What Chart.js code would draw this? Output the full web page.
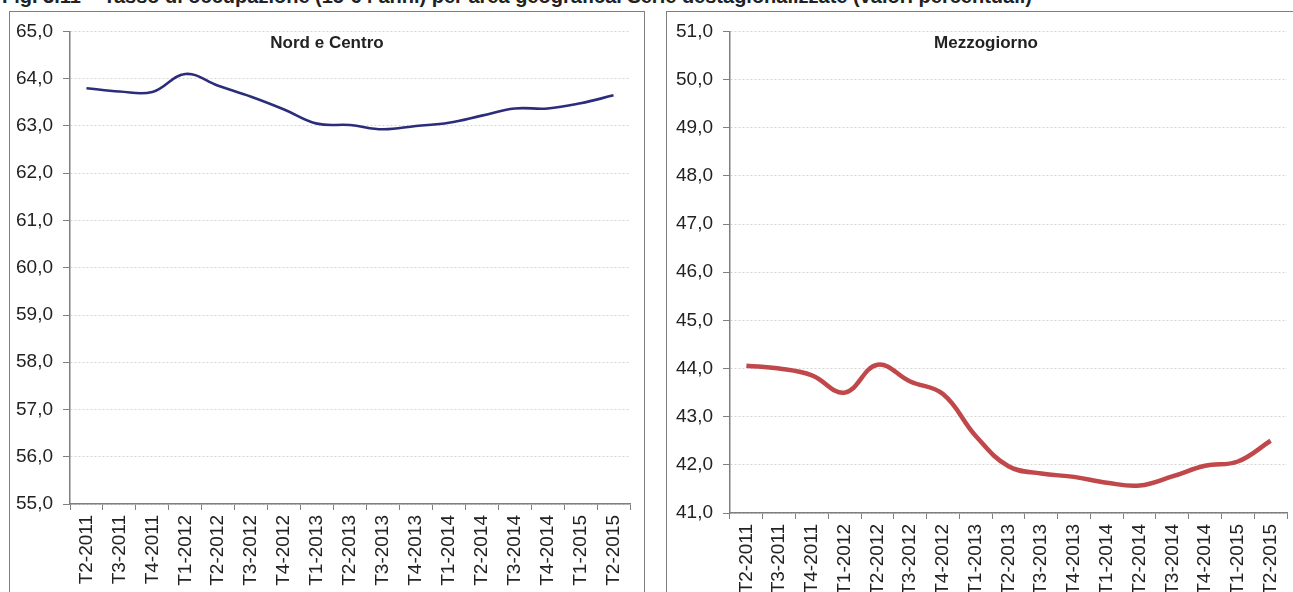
<!DOCTYPE html>
<html>
<head>
<meta charset="utf-8">
<script src="https://cdn.jsdelivr.net/npm/chart.js@4.4.1/dist/chart.umd.min.js"></script>
<style>
  html, body { margin: 0; padding: 0; background: #fff; overflow: hidden; width: 1293px; height: 592px; }
  body { position: relative; font-family: "Liberation Sans", Arial, sans-serif; }
  #fig { position: absolute; left: 2px; top: -15px; font-weight: bold; font-size: 20px; color: #222; white-space: nowrap; }
  .panel { position: absolute; top: 11px; height: 620px; border: 1px solid #7f7f7f; box-sizing: border-box; background: #fff; }
  .panel canvas { display: block; }
</style>
</head>
<body>
<div id="fig">Fig. 3.11 – Tasso di occupazione (15-64 anni) per area geografica. Serie destagionalizzate (valori percentuali)</div>
<div class="panel" style="left:9px; width:636px;"><canvas id="nordChart" width="634" height="618"></canvas></div>
<div class="panel" style="left:666px; width:640px;"><canvas id="sudChart" width="638" height="618"></canvas></div>
<script>
const categories = [
    'T2-2011', 'T3-2011', 'T4-2011', 'T1-2012', 'T2-2012', 'T3-2012', 'T4-2012',
    'T1-2013', 'T2-2013', 'T3-2013', 'T4-2013', 'T1-2014', 'T2-2014', 'T3-2014',
    'T4-2014', 'T1-2015', 'T2-2015'
];
const nordCentro = [63.8, 63.73, 63.72, 64.1, 63.85, 63.62, 63.35, 63.05, 63.02, 62.93,
    63.0, 63.07, 63.22, 63.37, 63.37, 63.48, 63.65];
const mezzogiorno = [44.06, 44.0, 43.86, 43.5, 44.08, 43.73, 43.47, 42.6, 41.97, 41.82,
    41.75, 41.63, 41.57, 41.76, 41.98, 42.07, 42.5];

const FONT = '"Liberation Sans", Arial, sans-serif';

// panel title, centred on the canvas like the original
const panelTitle = {
    id: 'panelTitle',
    afterDraw(chart, args, opts) {
        const ctx = chart.ctx;
        ctx.save();
        ctx.font = 'bold 17px ' + FONT;
        ctx.fillStyle = '#222';
        ctx.textAlign = 'center';
        ctx.textBaseline = 'middle';
        ctx.fillText(opts.text, chart.width / 2, 31);
        ctx.restore();
    }
};

function makeChart(id, title, values, color, lineWidth, yMin, yMax, axisWidth, plotBottom, plotRight) {
    const canvas = document.getElementById(id);
    return new Chart(canvas.getContext('2d'), {
        type: 'line',
        data: {
            labels: categories,
            datasets: [{
                data: values,
                borderColor: color,
                borderWidth: lineWidth,
                pointRadius: 0,
                tension: 0.4,
                fill: false
            }]
        },
        options: {
            responsive: false,
            animation: false,
            devicePixelRatio: 1,
            layout: { padding: { top: 17, right: canvas.width - plotRight, left: 0, bottom: 0 } },
            plugins: {
                legend: { display: false },
                tooltip: { enabled: false },
                panelTitle: { text: title }
            },
            scales: {
                x: {
                    offset: true,
                    grid: {
                        offset: true,
                        drawOnChartArea: false,
                        color: '#7f7f7f',
                        tickLength: 6
                    },
                    border: { color: '#7f7f7f', width: 1.5 },
                    ticks: {
                        minRotation: 90,
                        maxRotation: 90,
                        autoSkip: false,
                        padding: 5,
                        color: '#222',
                        font: { family: FONT, size: 19, lineHeight: 1 }
                    },
                    afterFit(scale) { scale.height = canvas.height - plotBottom; }
                },
                y: {
                    min: yMin,
                    max: yMax,
                    grid: {
                        color: '#d4d4d4',
                        tickColor: '#7f7f7f',
                        tickLength: 7,
                        tickBorderDash: []
                    },
                    border: { color: '#7f7f7f', width: 1.5, dash: [2, 2] },
                    ticks: {
                        stepSize: 1,
                        padding: 10,
                        color: '#222',
                        font: { family: FONT, size: 19, lineHeight: 1 },
                        callback: v => v.toFixed(1).replace('.', ',')
                    },
                    afterFit(scale) { scale.width = axisWidth; }
                }
            }
        },
        plugins: [panelTitle]
    });
}

makeChart('nordChart', 'Nord e Centro', nordCentro, '#2b2d7c', 2.6, 55, 65, 60, 492, 620);
makeChart('sudChart', 'Mezzogiorno', mezzogiorno, '#c0474a', 4.5, 41, 51, 63, 501, 620);
</script>
</body>
</html>
